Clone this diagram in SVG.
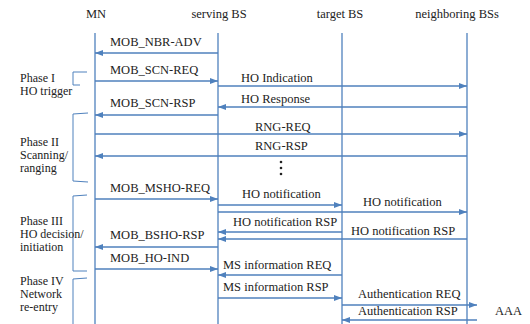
<svg xmlns="http://www.w3.org/2000/svg" width="530" height="324" viewBox="0 0 530 324">
<style>
text{font-family:"Liberation Serif","DejaVu Serif",serif;font-size:12.5px;fill:#222}
.hd{text-anchor:middle}
.ph{font-size:12px}
.life{stroke:#4f81bd;stroke-width:1.3;fill:none}
.msg{stroke:#4f81bd;stroke-width:1.3;fill:none;marker-end:url(#ah)}
.br{stroke:#4f81bd;stroke-width:1;fill:none}
</style>
<defs>
<marker id="ah" viewBox="0 0 8 6" refX="8" refY="3" markerWidth="8" markerHeight="6" markerUnits="userSpaceOnUse" orient="auto">
<path d="M0,0 L8,3 L0,6 Z" fill="#4f81bd"/>
</marker>
</defs>
<rect width="530" height="324" fill="#fff"/>
<g font-family="'Liberation Serif', 'DejaVu Serif', serif">
<g id="MN"><text class="hd" x="96" y="18">MN</text><line class="life" x1="95" y1="33" x2="95" y2="324"/></g>
<g id="servingBS"><text class="hd" x="219" y="18">serving BS</text><line class="life" x1="218" y1="33" x2="218" y2="324"/></g>
<g id="targetBS"><text class="hd" x="340" y="18">target BS</text><line class="life" x1="342" y1="33" x2="342" y2="324"/></g>
<g id="neighboringBSs"><text class="hd" x="457" y="18">neighboring BSs</text><line class="life" x1="467" y1="33" x2="467" y2="324"/></g>
<g id="AAA"><text x="495" y="315">AAA</text></g>
<g id="phases">
<path class="br" d="M87,72 L73,72 L73,85 L80,85"/>
<text class="ph" x="20" y="82">Phase I</text><text class="ph" x="20" y="95">HO trigger</text>
<path class="br" d="M88,113 L73,114 L73,181 L88,182"/>
<text class="ph" x="20" y="146">Phase II</text><text class="ph" x="20" y="159">Scanning/</text><text class="ph" x="20" y="172">ranging</text>
<path class="br" d="M87,195 L73,196 L73,271 L87,271"/>
<text class="ph" x="20" y="225">Phase III</text><text class="ph" x="20" y="238">HO decision/</text><text class="ph" x="20" y="251">initiation</text>
<path class="br" d="M87,278 L73,279 L73,324"/>
<text class="ph" x="20" y="285">Phase IV</text><text class="ph" x="20" y="298">Network</text><text class="ph" x="20" y="311">re-entry</text>
</g>
<g id="connectors">
<line class="msg" x1="218" y1="53" x2="95" y2="53"/>
<line class="msg" x1="95" y1="81" x2="218" y2="81"/>
<line class="msg" x1="218" y1="86" x2="467" y2="86"/>
<line class="msg" x1="467" y1="107" x2="218" y2="107"/>
<line class="msg" x1="218" y1="115" x2="95" y2="115"/>
<line class="msg" x1="95" y1="134" x2="467" y2="134"/>
<line class="msg" x1="467" y1="156" x2="95" y2="156"/>
<line class="msg" x1="95" y1="199" x2="218" y2="199"/>
<line class="msg" x1="218" y1="205" x2="342" y2="205"/>
<line class="msg" x1="218" y1="212" x2="467" y2="212"/>
<line class="msg" x1="342" y1="232" x2="218" y2="232"/>
<line class="msg" x1="467" y1="239" x2="218" y2="239"/>
<line class="msg" x1="218" y1="247" x2="95" y2="247"/>
<line class="msg" x1="95" y1="269" x2="218" y2="269"/>
<line class="msg" x1="342" y1="275" x2="218" y2="275"/>
<line class="msg" x1="218" y1="298" x2="342" y2="298"/>
<line class="msg" x1="342" y1="305" x2="477" y2="305"/>
<line class="msg" x1="477" y1="320" x2="342" y2="320"/>
</g>
<g id="labels">
<text x="110" y="46">MOB_NBR-ADV</text>
<text x="110" y="74">MOB_SCN-REQ</text>
<text x="241" y="82">HO Indication</text>
<text x="241" y="103">HO Response</text>
<text x="110" y="107">MOB_SCN-RSP</text>
<text x="255" y="131">RNG-REQ</text>
<text x="255" y="150">RNG-RSP</text>
<circle cx="281" cy="162" r="1.3" fill="#222"/><circle cx="281" cy="168" r="1.3" fill="#222"/><circle cx="281" cy="174" r="1.3" fill="#222"/>
<text x="110" y="192">MOB_MSHO-REQ</text>
<text x="242" y="198">HO notification</text>
<text x="363" y="206">HO notification</text>
<text x="233" y="226">HO notification RSP</text>
<text x="351" y="235">HO notification RSP</text>
<text x="110" y="239">MOB_BSHO-RSP</text>
<text x="110" y="262">MOB_HO-IND</text>
<text x="223" y="269">MS information REQ</text>
<text x="223" y="291">MS information RSP</text>
<text x="358" y="298">Authentication REQ</text>
<text x="358" y="315">Authentication RSP</text>
</g>
</g>
</svg>
